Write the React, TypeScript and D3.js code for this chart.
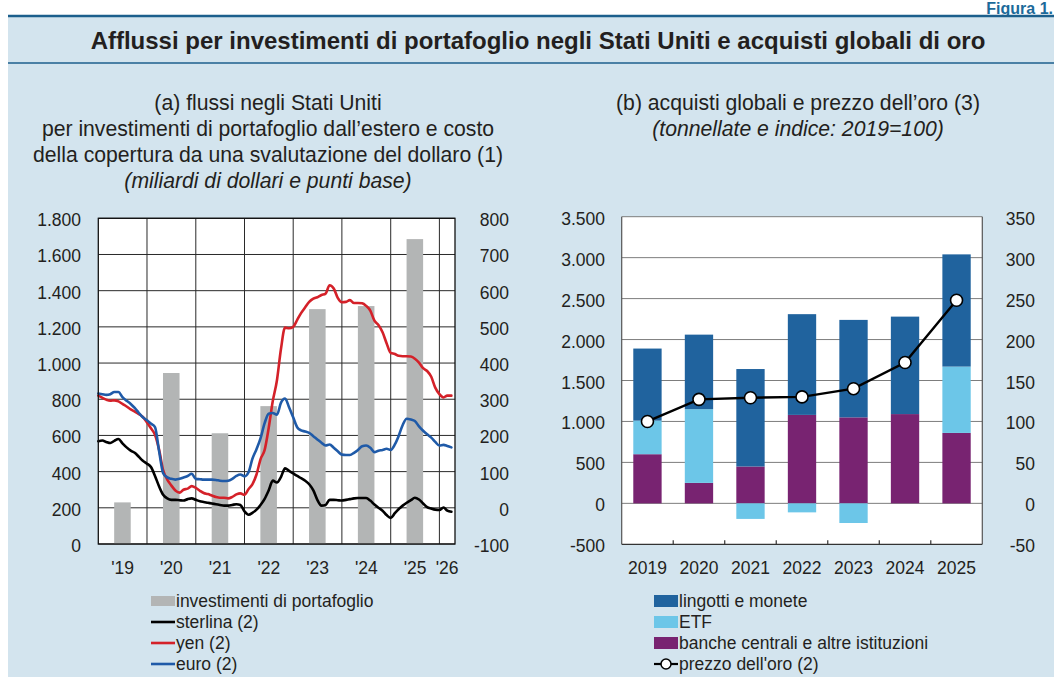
import React from 'react';
import * as d3 from 'd3';

// (a) portfolio inflows (left axis, billions of dollars), one bar per year
const flowYears = [2019, 2020, 2021, 2022, 2023, 2024, 2025];
const portfolioFlows = [230, 945, 612, 762, 1298, 1315, 1685];

// hedging cost (right axis, basis points), monthly from Jan 2019 to Apr 2026
const sterling = [
  184, 186, 182, 179, 185, 190, 178, 167, 158, 152, 141, 130,
  122, 112, 88, 59, 36, 26, 22, 22, 21, 20, 24, 26,
  22, 18, 16, 14, 12, 10, 8, 6, 6, 8, 10, 8,
  -10, -19, -14, -5, 8, 25, 48, 75, 70, 85, 109, 102,
  95, 88, 82, 75, 65, 48, 22, 6, 8, 22, 22, 21,
  20, 22, 24, 26, 27, 27, 27, 20, 9, 0, -8, -20,
  -28, -15, -4, 6, 14, 21, 28, 23, 12, 2, -2, -5,
  -6, 1, -8, -11,
];
const yen = [
  310, 304, 299, 296, 297, 294, 287, 280, 272, 266, 259, 251,
  236, 219, 202, 160, 104, 78, 62, 48, 42, 50, 53, 60,
  55, 47, 41, 38, 34, 30, 28, 28, 26, 30, 37, 40,
  36, 52, 65, 92, 134, 160, 220, 295, 352, 438, 498, 496,
  500, 520, 538, 554, 569, 578, 582, 588, 592, 615, 606, 580,
  568, 569, 574, 566, 566, 565, 558, 545, 517, 505, 485, 455,
  428, 425, 420, 419, 419, 418, 412, 401, 386, 378, 362, 332,
  314, 305, 310, 310,
];
const euro = [
  316, 314, 312, 314, 320, 320, 306, 296, 287, 276, 262, 250,
  242, 232, 223, 156, 96, 84, 80, 78, 80, 84, 88, 94,
  80, 79, 78, 78, 78, 77, 75, 74, 75, 80, 88, 92,
  87, 99, 135, 162, 192, 234, 260, 262, 257, 290, 302, 278,
  250, 222, 214, 211, 207, 198, 189, 180, 172, 175, 166, 156,
  147, 146, 146, 152, 160, 170, 172, 166, 154, 158, 160, 163,
  160, 175, 198, 229, 246, 244, 240, 225, 213, 203, 194, 182,
  172, 174, 171, 167,
];
const yearLabels = ["'19", "'20", "'21", "'22", "'23", "'24", "'25", "'26"];
const leftTicks = [0, 200, 400, 600, 800, 1000, 1200, 1400, 1600, 1800];
const rightTicks = [-100, 0, 100, 200, 300, 400, 500, 600, 700, 800];

// (b) gold purchases (tonnes) and gold price (index 2019=100)
const goldYears = ['2019', '2020', '2021', '2022', '2023', '2024', '2025'];
const centralBanks = [600, 250, 450, 1080, 1050, 1090, 860];
const etf = [410, 900, -190, -110, -240, 0, 810];
const barsCoins = [880, 910, 1190, 1230, 1190, 1190, 1370];
const goldPrice = [100, 127, 129, 130, 140, 172, 248];
const tonTicks = [-500, 0, 500, 1000, 1500, 2000, 2500, 3000, 3500];
const priceTicks = [-50, 0, 50, 100, 150, 200, 250, 300, 350];

const FONT = "'Liberation Sans', Arial, Helvetica, sans-serif";
const TXT = '#231f20';
const PANEL = '#d3e4ee';
const DARKBLUE = '#1c5f8c';

const itFormat = d3.formatLocale({ decimal: ',', thousands: '.', grouping: [3], currency: ['€', ''], minus: '-' }).format(',');
const itFmt = (v: number) => itFormat(v).replace('−', '-');

export default function App() {
  // ---- panel (a)
  const A = { left: 98.3, right: 455, top: 218.3, bottom: 544 };
  const x = d3.scaleTime().domain([new Date(2019, 0, 1), new Date(2026, 3, 28)]).range([A.left, A.right]);
  const yL = d3.scaleLinear().domain([0, 1800]).range([A.bottom, A.top]);
  const yR = d3.scaleLinear().domain([-100, 800]).range([A.bottom, A.top]);
  const months = sterling.map((_, i) => new Date(2019, i, 1));
  const line = d3.line<number>().x((_, i) => x(months[i])).y(d => yR(d)).curve(d3.curveMonotoneX);
  const yearW = x(new Date(2020, 0, 1)) - x(new Date(2019, 0, 1));
  const barW = yearW * 0.34;
  const yearStarts = d3.range(2020, 2027).map(y => new Date(y, 0, 1));
  const labelX = yearLabels.map((_, i) => {
    const a = x(new Date(2019 + i, 0, 1));
    const b = Math.min(x(new Date(2020 + i, 0, 1)), A.right);
    return (a + b) / 2;
  });

  // ---- panel (b)
  const B = { left: 621.7, right: 982.3, top: 216.7, bottom: 544.3 };
  const xb = d3.scaleBand<string>().domain(goldYears).range([B.left, B.right]).paddingInner(0.45).paddingOuter(0.225);
  const yT = d3.scaleLinear().domain([-500, 3500]).range([B.bottom, B.top]);
  const yP = d3.scaleLinear().domain([-50, 350]).range([B.bottom, B.top]);
  const rows = goldYears.map((year, i) => ({ year, banche: centralBanks[i], etf: etf[i], lingotti: barsCoins[i] }));
  const stack = d3.stack<any>().keys(['banche', 'etf', 'lingotti']).offset(d3.stackOffsetDiverging)(rows);
  const goldColors: Record<string, string> = { lingotti: '#20639e', etf: '#6cc6e8', banche: '#782371' };
  const priceLine = d3.line<number>().x((_, i) => xb(goldYears[i])! + xb.bandwidth() / 2).y(d => yP(d));
  const step = xb.step();

  const legendA = [
    { type: 'rect', color: '#b3b5b5', label: 'investimenti di portafoglio' },
    { type: 'line', color: '#000000', label: 'sterlina (2)' },
    { type: 'line', color: '#d42129', label: 'yen (2)' },
    { type: 'line', color: '#1f5aa8', label: 'euro (2)' },
  ];
  const legendB = [
    { type: 'rect', color: goldColors.lingotti, label: 'lingotti e monete' },
    { type: 'rect', color: goldColors.etf, label: 'ETF' },
    { type: 'rect', color: goldColors.banche, label: 'banche centrali e altre istituzioni' },
    { type: 'marker', color: '#000', label: "prezzo dell'oro (2)" },
  ];
  const legendY = [601, 622, 643, 664];

  return (
    <>
      <style>{'body{margin:0}'}</style>
      <svg width={1054} height={677} style={{ display: 'block' }} fontFamily={FONT}>
        <rect x={0} y={0} width={1054} height={677} fill="#fff" />
        <text x={1053} y={14} fontSize={16} fontWeight="bold" fill="#1c6a9a" textAnchor="end">Figura 1.</text>
        <rect x={8} y={17} width={1046} height={660} fill={PANEL} />
        <line x1={8} x2={1054} y1={16} y2={16} stroke={DARKBLUE} strokeWidth={2.4} />
        <line x1={8} x2={1054} y1={63} y2={63} stroke={DARKBLUE} strokeWidth={1.5} />
        <text x={538} y={49} fontSize={24} fontWeight="bold" fill={TXT} textAnchor="middle">
          Afflussi per investimenti di portafoglio negli Stati Uniti e acquisti globali di oro
        </text>

        {/* panel titles */}
        <g fontSize={21.2} fill={TXT} textAnchor="middle">
          <text x={268} y={110}>(a) flussi negli Stati Uniti</text>
          <text x={268} y={136}>per investimenti di portafoglio dall’estero e costo</text>
          <text x={268} y={162}>della copertura da una svalutazione del dollaro (1)</text>
          <text x={268} y={188} fontStyle="italic">(miliardi di dollari e punti base)</text>
          <text x={798} y={110}>(b) acquisti globali e prezzo dell’oro (3)</text>
          <text x={798} y={136} fontStyle="italic">(tonnellate e indice: 2019=100)</text>
        </g>

        {/* panel (a) plot */}
        <rect x={A.left} y={A.top} width={A.right - A.left} height={A.bottom - A.top} fill="#fff" />
        {leftTicks.map(t => (
          <line key={'h' + t} x1={A.left} x2={A.right} y1={yL(t)} y2={yL(t)} stroke="#2a2a2a" strokeWidth={1} />
        ))}
        {yearStarts.map(d => (
          <line key={'v' + d.getFullYear()} x1={x(d)} x2={x(d)} y1={A.top} y2={A.bottom} stroke="#2a2a2a" strokeWidth={1} />
        ))}
        {portfolioFlows.map((v, i) => {
          const cx = x(new Date(flowYears[i], 6, 1));
          return <rect key={'b' + i} x={cx - barW / 2} y={yL(v)} width={barW} height={yL(0) - yL(v)} fill="#b3b5b5" />;
        })}
        <g fill="none" strokeWidth={2.6} strokeLinejoin="round" strokeLinecap="round">
          <path d={line(sterling)!} stroke="#000" />
          <path d={line(yen)!} stroke="#d42129" />
          <path d={line(euro)!} stroke="#1f5aa8" />
        </g>
        <rect x={A.left} y={A.top} width={A.right - A.left} height={A.bottom - A.top} fill="none" stroke="#111" strokeWidth={1.3} />
        <g fontSize={17.5} fill={TXT}>
          {leftTicks.map(t => (
            <text key={'lt' + t} x={81} y={yL(t) + 8} textAnchor="end">{itFmt(t)}</text>
          ))}
          {rightTicks.map(t => (
            <text key={'rt' + t} x={509} y={yR(t) + 8} textAnchor="end">{itFmt(t)}</text>
          ))}
          {yearLabels.map((l, i) => (
            <text key={'yl' + i} x={labelX[i]} y={574} textAnchor="middle">{l}</text>
          ))}
        </g>

        {/* panel (b) plot */}
        <rect x={B.left} y={B.top} width={B.right - B.left} height={B.bottom - B.top} fill="#fff" />
        {tonTicks.slice(1).map(t => (
          <line key={'g' + t} x1={B.left} x2={B.right} y1={yT(t)} y2={yT(t)} stroke="#7d7d7d" strokeWidth={1} />
        ))}
        {stack.map(s => (
          <g key={s.key} fill={goldColors[s.key]}>
            {s.map((d, i) => (
              <rect key={i} x={xb(goldYears[i])} y={yT(Math.max(d[0], d[1]))} width={xb.bandwidth()}
                height={Math.abs(yT(d[0]) - yT(d[1]))} />
            ))}
          </g>
        ))}
        <line x1={B.left} x2={B.left} y1={B.top} y2={B.bottom} stroke="#555" strokeWidth={1.2} />
        <line x1={B.right} x2={B.right} y1={B.top} y2={B.bottom} stroke="#555" strokeWidth={1.2} />
        <line x1={B.left} x2={B.right} y1={B.bottom} y2={B.bottom} stroke="#333" strokeWidth={1.3} />
        {goldYears.slice(1).map(g => (
          <line key={'tk' + g} x1={xb(g)! - (step - xb.bandwidth()) / 2} x2={xb(g)! - (step - xb.bandwidth()) / 2}
            y1={B.bottom} y2={B.bottom - 4} stroke="#333" strokeWidth={1.2} />
        ))}
        <path d={priceLine(goldPrice)!} fill="none" stroke="#000" strokeWidth={2.4} />
        {goldPrice.map((v, i) => (
          <circle key={'p' + i} cx={xb(goldYears[i])! + xb.bandwidth() / 2} cy={yP(v)} r={6} fill="#fff" stroke="#000" strokeWidth={1.6} />
        ))}
        <g fontSize={17.5} fill={TXT}>
          {tonTicks.map(t => (
            <text key={'tt' + t} x={605} y={yT(t) + 8} textAnchor="end">{itFmt(t)}</text>
          ))}
          {priceTicks.map(t => (
            <text key={'pt' + t} x={1035} y={yP(t) + 8} textAnchor="end">{itFmt(t)}</text>
          ))}
          {goldYears.map(g => (
            <text key={'gy' + g} x={xb(g)! + xb.bandwidth() / 2} y={574} textAnchor="middle">{g}</text>
          ))}
        </g>

        {/* legends */}
        <g fontSize={17.5} fill={TXT}>
          {legendA.map((it, i) => (
            <g key={'la' + i}>
              {it.type === 'rect'
                ? <rect x={151} y={legendY[i] - 5} width={24} height={10} fill={it.color} />
                : <line x1={151} x2={175} y1={legendY[i]} y2={legendY[i]} stroke={it.color} strokeWidth={2.6} />}
              <text x={176} y={legendY[i] + 6}>{it.label}</text>
            </g>
          ))}
          {legendB.map((it, i) => (
            <g key={'lb' + i}>
              {it.type === 'rect' && <rect x={654} y={legendY[i] - 6} width={24} height={12} fill={it.color} />}
              {it.type === 'marker' && (
                <>
                  <line x1={654} x2={678} y1={legendY[i]} y2={legendY[i]} stroke="#000" strokeWidth={2.2} />
                  <circle cx={666} cy={legendY[i]} r={5} fill="#fff" stroke="#000" strokeWidth={1.5} />
                </>
              )}
              <text x={679} y={legendY[i] + 6}>{it.label}</text>
            </g>
          ))}
        </g>
      </svg>
    </>
  );
}
